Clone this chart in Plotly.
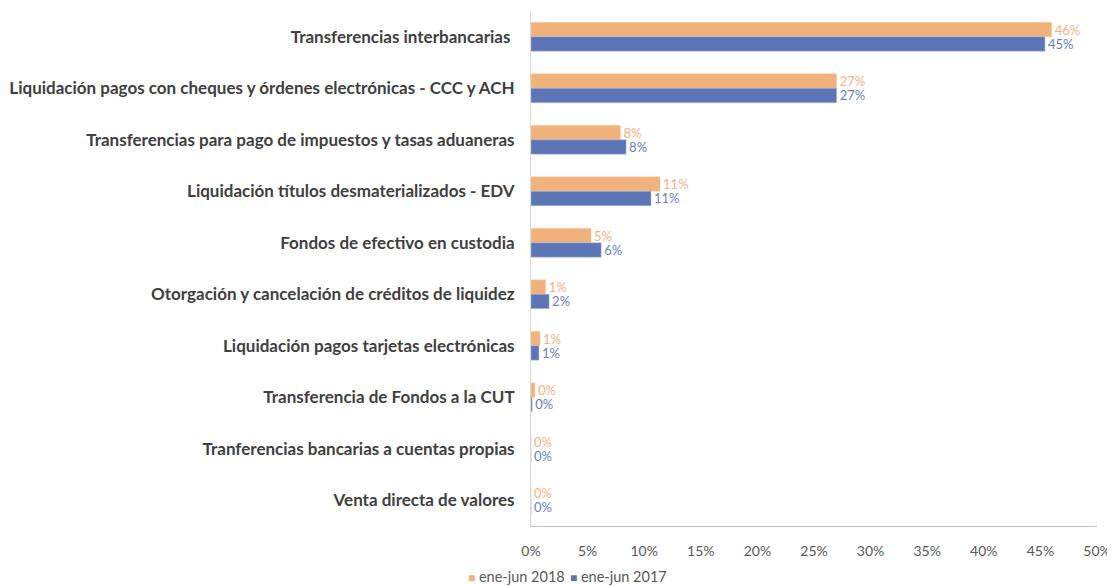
import plotly.graph_objects as go

categories = [
    "Transferencias interbancarias ",
    "Liquidación pagos con cheques y órdenes electrónicas - CCC y ACH",
    "Transferencias para pago de impuestos y tasas aduaneras",
    "Liquidación títulos desmaterializados - EDV",
    "Fondos de efectivo en custodia",
    "Otorgación y cancelación de créditos de liquidez",
    "Liquidación pagos tarjetas electrónicas",
    "Transferencia de Fondos a la CUT",
    "Tranferencias bancarias a cuentas propias",
    "Venta directa de valores",
]
series_2018_name = "ene-jun 2018"
series_2017_name = "ene-jun 2017"
values_2018 = [0.460, 0.270, 0.079, 0.114, 0.053, 0.013, 0.008, 0.0035, 0.0, 0.0]
values_2017 = [0.454, 0.270, 0.084, 0.106, 0.062, 0.016, 0.007, 0.001, 0.0, 0.0]
x_ticks = [0, 0.05, 0.10, 0.15, 0.20, 0.25, 0.30, 0.35, 0.40, 0.45, 0.50]

orange = "#F0B27A"
blue = "#5B75B6"

fig = go.Figure()
fig.add_trace(go.Bar(
    y=categories, x=values_2018, name=series_2018_name, orientation="h",
    marker=dict(color=orange, line=dict(color="#F7D3B0", width=0.5)),
    texttemplate="%{x:.0%}", textposition="outside", constraintext="none",
    textfont=dict(color="#F4B183", size=13, family="Lato"),
    cliponaxis=False, showlegend=False,
))
fig.add_trace(go.Bar(
    y=categories, x=values_2017, name=series_2017_name, orientation="h",
    marker=dict(color=blue, line=dict(color="#AFBDE0", width=0.5)),
    texttemplate="%{x:.0%}", textposition="outside", constraintext="none",
    textfont=dict(color="#6A80C0", size=13, family="Lato"),
    cliponaxis=False, showlegend=False,
))

# legend drawn as text entries (square key + series name)
legend_items = [(series_2018_name, orange, -0.1148), (series_2017_name, blue, 0.0654)]
for name, col, xp in legend_items:
    fig.add_annotation(
        x=xp, y=-0.0971, xref="paper", yref="paper", xanchor="left", yanchor="middle",
        showarrow=False,
        text=f"<span style='color:{col};font-size:12px'>■</span> {name}",
        font=dict(size=14.5, color="#595959", family="Lato"),
    )

fig.update_layout(
    width=1107, height=578,
    margin=dict(l=523, r=18, t=3, b=60, autoexpand=False),
    barmode="group", bargap=0.44, bargroupgap=0.0,
    plot_bgcolor="white", paper_bgcolor="white",
    font=dict(family="Lato", color="#595959"),
    showlegend=False,
)
fig.update_xaxes(
    range=[0, 0.5], tickvals=x_ticks, tickformat=".0%",
    showgrid=False, zeroline=False,
    showline=True, linecolor="#B4C0DC", linewidth=1,
    tickfont=dict(size=14, color="#595959", family="Lato"),
    ticks="", ticklabelstandoff=12, automargin=False,
)
fig.update_yaxes(
    autorange="reversed", showgrid=False, zeroline=False,
    showline=True, linecolor="#D9D9D9", linewidth=1,
    tickfont=dict(size=17, color="#404040", family="Lato", weight="bold"),
    ticks="", ticklabelstandoff=12,
    automargin=False,
)

fig.write_html("out.html")
